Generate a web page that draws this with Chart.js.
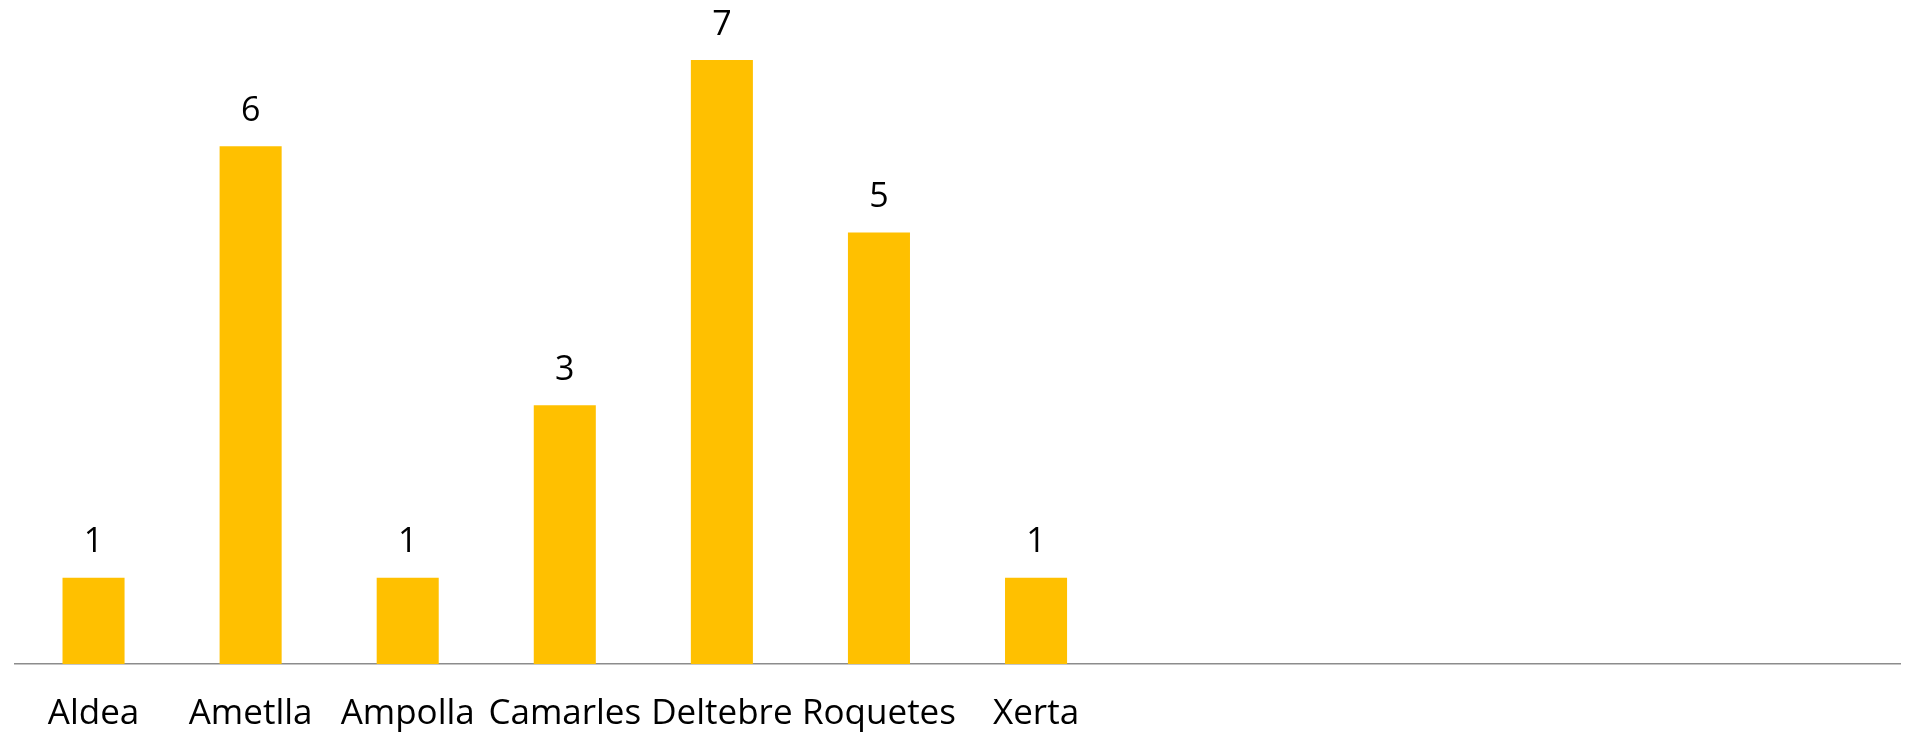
<!DOCTYPE html>
<html>
<head>
<meta charset="utf-8">
<script src="https://cdn.jsdelivr.net/npm/chart.js@4.4.1/dist/chart.umd.min.js"></script>
<style>
html,body{margin:0;padding:0;background:#fff;}
#wrap{width:1908px;height:737px;position:relative;}
</style>
</head>
<body>
<div id="wrap"><canvas id="c" width="1908" height="737"></canvas></div>
<script>
const categories = ["Aldea","Ametlla","Ampolla","Camarles","Deltebre","Roquetes","Xerta","","","","",""];
const values = [1,6,1,3,7,5,1,null,null,null,null,null];

const valueLabels = {
  id: 'valueLabels',
  afterDatasetsDraw(chart) {
    const ctx = chart.ctx;
    const meta = chart.getDatasetMeta(0);
    ctx.save();
    ctx.font = '34px "Open Sans"';
    ctx.fillStyle = '#000';
    ctx.textAlign = 'center';
    ctx.textBaseline = 'middle';
    meta.data.forEach((bar, i) => {
      const v = values[i];
      if (v === null || v === undefined) return;
      ctx.fillText(String(v), bar.x, bar.y - 35);
    });
    ctx.restore();
  }
};

new Chart(document.getElementById('c'), {
  type: 'bar',
  data: {
    labels: categories,
    datasets: [{
      data: values,
      backgroundColor: '#FFC000',
      borderWidth: 0,
      categoryPercentage: 1,
      barPercentage: 0.395
    }]
  },
  options: {
    responsive: false,
    animation: false,
    layout: { padding: { left: 15, right: 8, top: 60, bottom: -27 } },
    plugins: { legend: { display: false }, tooltip: { enabled: false } },
    scales: {
      x: {
        grid: { display: false, drawTicks: false },
        border: { display: true, color: '#8c8c8c', width: 1.5 },
        ticks: { color: '#000', font: { family: 'Open Sans', size: 35 }, padding: 29, maxRotation: 0, autoSkip: false }
      },
      y: {
        display: false,
        min: 0,
        max: 7
      }
    }
  },
  plugins: [valueLabels]
});
</script>
</body>
</html>
